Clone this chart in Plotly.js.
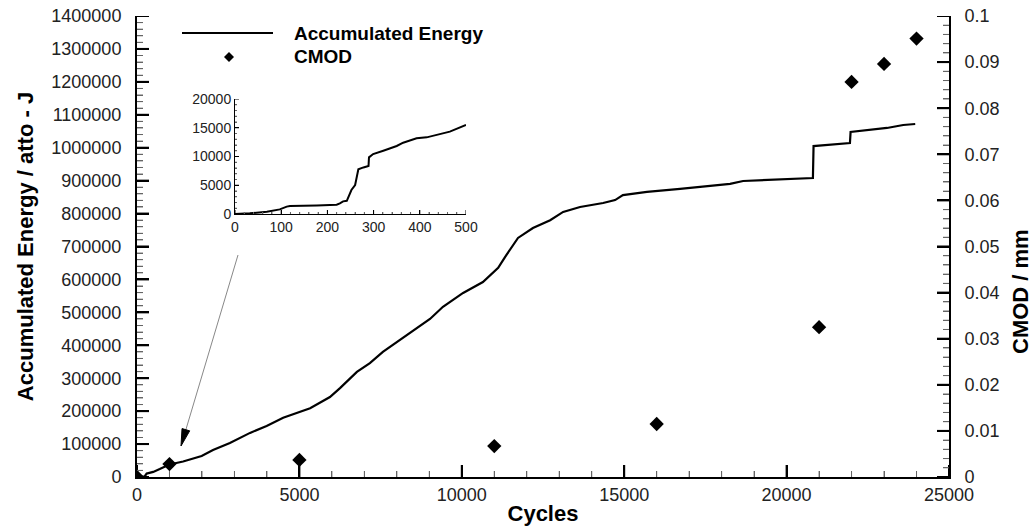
<!DOCTYPE html>
<html>
<head>
<meta charset="utf-8">
<script src="https://cdn.plot.ly/plotly-3.0.1.min.js"></script>
<style>
html,body{margin:0;padding:0;background:#fff;}
#wrap{position:relative;width:1035px;height:530px;}
#chart,#inset{position:absolute;left:0;top:0;width:1035px;height:530px;}
#inset{pointer-events:none;}
</style>
</head>
<body>
<div id="wrap"><div id="chart"></div><div id="inset"></div></div>
<script>
// Accumulated energy curve (cycles, atto-J)
const cycles = [0, 32, 69, 97, 112, 119, 177, 220, 227, 234, 242, 247, 252, 260, 263, 267, 278, 289, 290, 299, 321, 335, 350, 364, 393, 415, 436, 465, 500,
  700, 1000, 1420, 1990, 2340, 2860, 3480, 3990, 4500, 5020, 5330, 5940, 6250, 6770, 7170, 7570, 8000, 8620, 9020, 9420, 10040, 10650, 11120, 11330, 11730,
  12190, 12720, 13120, 13640, 14350, 14720, 14960, 15700, 16720, 18260, 18660, 20810, 20830, 21950, 21970, 23090, 23590, 23960];
const energy = [0, 116, 400, 800, 1280, 1400, 1500, 1620, 1850, 2200, 2300, 3300, 4170, 5040, 6500, 7770, 8100, 8350, 9850, 10430, 11010, 11420, 11830, 12400, 13160, 13330, 13740, 14320, 15480,
  24000, 38000, 47000, 64000, 82000, 103000, 134000, 155000, 180000, 198000, 209000, 243000, 270000, 319000, 346000, 380000, 410000, 452000, 480000, 517000, 559000, 592000, 635000, 668000, 726000,
  756000, 780000, 805000, 820000, 832000, 841000, 856000, 866000, 875000, 890000, 899000, 908000, 1005000, 1014000, 1048000, 1060000, 1069000, 1072000];

// CMOD measurements (cycles, mm)
const cmodCycles = [0, 1000, 5000, 11000, 16000, 21000, 22000, 23000, 24000];
const cmodValues = [0, 0.0028, 0.0037, 0.0067, 0.0115, 0.0325, 0.0857, 0.0896, 0.0951];

// Axis ranges / steps
const xMax = 25000, xStep = 5000, xMinor = 1000;
const yMax = 1400000, yStep = 100000, yMinor = 20000;
const y2Max = 0.1, y2Step = 0.01, y2Minor = 0.002;

// Inset range
const insetMax = 500, insetYMax = 20000;
const insetCycles = cycles.filter(c => c <= insetMax);
const insetEnergy = energy.slice(0, insetCycles.length);

// Text
const seriesNames = ['Accumulated Energy', 'CMOD'];
const xTitle = 'Cycles';
const yTitle = 'Accumulated Energy / atto - J';
const y2Title = 'CMOD / mm';

// pixel -> paper helpers (plot area: 137..949 x, 16..477 y)
const L = 137, R = 949, T = 16, B = 477;
const PW = R - L, PH = B - T;
const px = v => (v - L) / PW;
const py = v => (B - v) / PH;

const FONT = 'Liberation Sans, Arial, sans-serif';
const tickFont = {family: FONT, size: 18, color: '#222'};
const titleFont = {family: FONT, size: 22, color: '#000', weight: 'bold'};
const GAP = '\u00a0\u00a0';

// inward tick marks as shapes, placed through the axis scales
function steps(max, step) {
  const out = [];
  const n = Math.round(max / step);
  for (let i = 0; i <= n; i++) out.push(+(i * step).toPrecision(10));
  return out;
}
function tickMarks(axis, max, major, minor, majLen, minLen, w, h) {
  const res = [];
  const majors = steps(max, major);
  const minors = steps(max, minor).filter(v => !majors.some(m => Math.abs(m - v) < minor / 100));
  const add = (v, len, width, color) => {
    if (axis === 'x') res.push({type: 'line', xref: 'x', yref: 'paper', x0: v, x1: v, y0: 0, y1: len / h, line: {color, width}});
    else if (axis === 'y') res.push({type: 'line', xref: 'paper', yref: 'y', x0: 0, x1: len / w, y0: v, y1: v, line: {color, width}});
    else res.push({type: 'line', xref: 'paper', yref: axis, x0: 1 - len / w, x1: 1, y0: v, y1: v, line: {color, width}});
  };
  minors.forEach(v => add(v, minLen, 1, '#666'));
  majors.forEach(v => add(v, majLen, 2, '#000'));
  return res;
}

const traces = [
  {x: cycles, y: energy, type: 'scatter', mode: 'lines', name: seriesNames[0],
   line: {color: '#000', width: 2.2}, xaxis: 'x', yaxis: 'y', showlegend: false},
  {x: cmodCycles, y: cmodValues, type: 'scatter', mode: 'markers', name: seriesNames[1],
   marker: {symbol: 'diamond', size: 11, color: '#000'}, xaxis: 'x', yaxis: 'y2', showlegend: false}
];

const mainAxis = {
  showline: true, linewidth: 2, linecolor: '#000',
  ticks: 'inside', ticklen: 12, tickwidth: 2, tickcolor: '#000',
  showgrid: false, zeroline: false, tickfont: tickFont
};

// arrow from inset to start of curve
const a0 = [238, 255], tip = [181, 446];
const dx = tip[0] - a0[0], dy = tip[1] - a0[1], dl = Math.hypot(dx, dy);
const ux = -dx / dl, uy = -dy / dl;
const hb = [tip[0] + 17 * ux, tip[1] + 17 * uy];
const pxv = -uy, pyv = ux;
const h1 = [hb[0] + 4 * pxv, hb[1] + 4 * pyv], h2 = [hb[0] - 4 * pxv, hb[1] - 4 * pyv];

const dm = [229, 57];
const shapes = [].concat(
  tickMarks('x', xMax, xStep, xMinor, 12, 6, PW, PH),
  tickMarks('y', yMax, yStep, yMinor, 12, 6, PW, PH),
  tickMarks('y2', y2Max, y2Step, y2Minor, 12, 6, PW, PH),
  [
    {type: 'line', xref: 'paper', yref: 'paper', x0: px(a0[0]), y0: py(a0[1]), x1: px(hb[0]), y1: py(hb[1]),
     line: {color: '#888', width: 1}},
    {type: 'path', xref: 'paper', yref: 'paper',
     path: `M${px(tip[0])},${py(tip[1])} L${px(h1[0])},${py(h1[1])} L${px(h2[0])},${py(h2[1])} Z`,
     fillcolor: '#000', line: {color: '#000', width: 1}},
    {type: 'line', xref: 'paper', yref: 'paper', x0: px(182), x1: px(273), y0: py(33), y1: py(33),
     line: {color: '#000', width: 2.2}},
    {type: 'path', xref: 'paper', yref: 'paper',
     path: `M${px(dm[0] - 5)},${py(dm[1])} L${px(dm[0])},${py(dm[1] - 5)} L${px(dm[0] + 5)},${py(dm[1])} L${px(dm[0])},${py(dm[1] + 5)} Z`,
     fillcolor: '#000', line: {color: '#000', width: 0}}
  ]
);

const annotations = [
  {xref: 'paper', yref: 'paper', x: px(292), y: py(33), xanchor: 'left', yanchor: 'middle', showarrow: false,
   text: seriesNames[0], font: {family: FONT, size: 19, color: '#000', weight: 'bold'}},
  {xref: 'paper', yref: 'paper', x: px(292), y: py(57), xanchor: 'left', yanchor: 'middle', showarrow: false,
   text: seriesNames[1], font: {family: FONT, size: 19, color: '#000', weight: 'bold'}},
  {xref: 'paper', yref: 'paper', x: px(1020), y: py(292), xanchor: 'center', yanchor: 'middle', showarrow: false,
   text: y2Title, textangle: -90, font: titleFont}
];

const layout = {
  width: 1035, height: 530,
  margin: {l: L, r: 1035 - R, t: T, b: 530 - B},
  paper_bgcolor: '#fff', plot_bgcolor: '#fff',
  showlegend: false,
  xaxis: Object.assign({}, mainAxis, {
    range: [0, xMax], tick0: 0, dtick: xStep, tickformat: 'd',
    minor: {dtick: xMinor, ticks: 'inside', ticklen: 6, tickwidth: 1, tickcolor: '#666', showgrid: false},
    title: {text: xTitle, font: titleFont, standoff: 2}
  }),
  yaxis: Object.assign({}, mainAxis, {
    range: [0, yMax], tick0: 0, dtick: yStep, tickformat: 'd',
    ticksuffix: GAP,
    minor: {dtick: yMinor, ticks: 'inside', ticklen: 6, tickwidth: 1, tickcolor: '#666', showgrid: false},
    title: {text: yTitle, font: titleFont, standoff: 12}
  }),
  yaxis2: Object.assign({}, mainAxis, {
    overlaying: 'y', side: 'right', range: [0, y2Max], tick0: 0, dtick: y2Step,
    tickprefix: GAP,
    minor: {dtick: y2Minor, ticks: 'inside', ticklen: 6, tickwidth: 1, tickcolor: '#666', showgrid: false}
  }),
  shapes: shapes,
  annotations: annotations
};

// Inset (separate transparent plot placed over the main one)
const IL = 235, IR = 466, IT = 99, IB = 214;
const IW = IR - IL, IH = IB - IT;
const insetFont = {family: FONT, size: 14, color: '#222'};
const insetTraces = [
  {x: insetCycles, y: insetEnergy, type: 'scatter', mode: 'lines', name: seriesNames[0] + ' (inset)',
   line: {color: '#000', width: 2}, showlegend: false}
];
const insetLayout = {
  width: 1035, height: 530,
  margin: {l: IL, r: 1035 - IR, t: IT, b: 530 - IB},
  paper_bgcolor: 'rgba(0,0,0,0)', plot_bgcolor: 'rgba(0,0,0,0)',
  showlegend: false,
  xaxis: {range: [0, insetMax], dtick: 100, tick0: 0,
    showline: true, linewidth: 1, linecolor: '#000', ticks: 'inside', ticklen: 4, tickwidth: 1, tickcolor: '#000',
    minor: {dtick: 20, ticks: 'inside', ticklen: 2, tickwidth: 1, tickcolor: '#666'},
    showgrid: false, zeroline: false, tickfont: insetFont},
  yaxis: {range: [0, insetYMax], dtick: 5000, tick0: 0, tickformat: 'd',
    showline: true, linewidth: 1, linecolor: '#000', ticks: 'inside', ticklen: 4, tickwidth: 1, tickcolor: '#000',
    minor: {dtick: 1000, ticks: 'inside', ticklen: 2, tickwidth: 1, tickcolor: '#666'},
    showgrid: false, zeroline: false, tickfont: insetFont},
  shapes: [].concat(
    tickMarks('x', insetMax, 100, 20, 4, 2, IW, IH),
    tickMarks('y', insetYMax, 5000, 1000, 4, 2, IW, IH)
  ).map(s => Object.assign(s, {line: {color: s.line.color, width: 1}}))
};

Plotly.newPlot('chart', traces, layout, {staticPlot: true, displayModeBar: false});
Plotly.newPlot('inset', insetTraces, insetLayout, {staticPlot: true, displayModeBar: false});
</script>
</body>
</html>
